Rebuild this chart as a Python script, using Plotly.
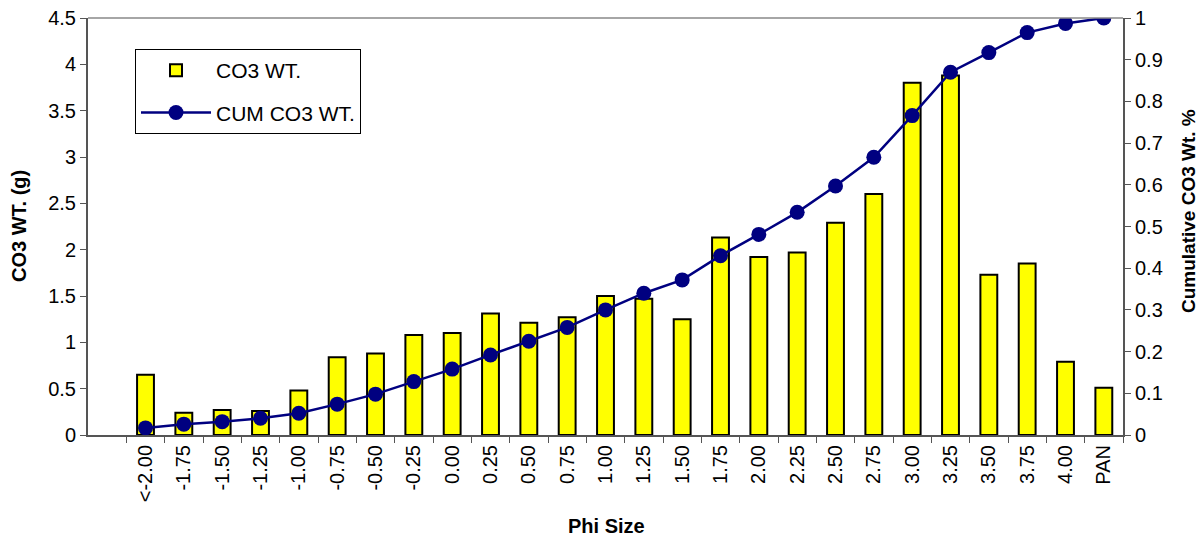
import plotly.graph_objects as go

categories = ["<-2.00", "-1.75", "-1.50", "-1.25", "-1.00", "-0.75", "-0.50", "-0.25",
              "0.00", "0.25", "0.50", "0.75", "1.00", "1.25", "1.50", "1.75", "2.00",
              "2.25", "2.50", "2.75", "3.00", "3.25", "3.50", "3.75", "4.00", "PAN"]
co3_wt = [0.65, 0.24, 0.27, 0.26, 0.48, 0.84, 0.88, 1.08, 1.10, 1.31, 1.21, 1.27, 1.50,
          1.47, 1.25, 2.13, 1.92, 1.97, 2.29, 2.60, 3.80, 3.88, 1.73, 1.85, 0.79, 0.51]
cum_co3 = [0.017, 0.026, 0.032, 0.040, 0.052, 0.074, 0.098, 0.128, 0.158, 0.192, 0.225,
           0.258, 0.300, 0.340, 0.372, 0.430, 0.481, 0.534, 0.597, 0.666, 0.766, 0.870,
           0.917, 0.965, 0.987, 1.0]
left_ticks = [0, 0.5, 1, 1.5, 2, 2.5, 3, 3.5, 4, 4.5]
right_ticks = [0, 0.1, 0.2, 0.3, 0.4, 0.5, 0.6, 0.7, 0.8, 0.9, 1]

FONT = "Arial, Liberation Sans, sans-serif"
W, H = 1200, 537
ML, MR, MT, MB = 88, 77, 18, 102
PW, PH = W - ML - MR, H - MT - MB

fig = go.Figure()
fig.add_trace(go.Bar(
    x=categories, y=co3_wt, name="CO3 WT.",
    marker=dict(color="#FFFF00", line=dict(color="black", width=2)),
    width=0.44, legendgroup="a",
))
fig.add_trace(go.Scatter(
    x=categories, y=cum_co3, name="CUM CO3 WT.", yaxis="y2",
    mode="lines+markers",
    line=dict(color="#000080", width=2.5),
    marker=dict(color="#000080", size=15),
    legendgroup="b",
))

def px_x(p):
    return (p - ML) / PW

def px_y(p):
    return (H - MB - p) / PH

fig.update_layout(
    width=W, height=H,
    margin=dict(l=ML, r=MR, t=MT, b=MB),
    paper_bgcolor="white", plot_bgcolor="white",
    font=dict(family=FONT, size=20, color="black"),
    showlegend=True,
    legend=dict(
        x=px_x(135), y=px_y(49), xanchor="left", yanchor="top",
        bgcolor="white", bordercolor="black", borderwidth=1,
        font=dict(size=21), tracegroupgap=12, traceorder="grouped",
        itemwidth=70,
    ),
    xaxis=dict(
        type="category", range=[-1.5, 25.5], automargin=False,
        tickangle=-90, tickson="boundaries",
        ticks="outside", ticklen=6, tickcolor="#555",
        showline=True, linecolor="#555", linewidth=2,
        showgrid=False, zeroline=False,
        tickfont=dict(size=20),
    ),
    yaxis=dict(
        range=[0, 4.5], tickvals=left_ticks, automargin=False,
        ticktext=[("%g" % v) for v in left_ticks],
        ticks="outside", ticklen=6, tickcolor="#555",
        showline=True, linecolor="#555", linewidth=2,
        showgrid=False, zeroline=False,
        tickfont=dict(size=20),
    ),
    yaxis2=dict(
        range=[0, 1], tickvals=right_ticks, automargin=False,
        ticktext=[("%g" % v) for v in right_ticks],
        overlaying="y", side="right",
        ticks="outside", ticklen=6, tickcolor="#555",
        showline=True, linecolor="#555", linewidth=2,
        showgrid=False, zeroline=False,
        tickfont=dict(size=20),
    ),
    shapes=[dict(type="line", xref="paper", yref="paper", x0=0, x1=1, y0=1, y1=1,
                 line=dict(color="#888", width=1.5))],
    annotations=[
        dict(text="<b>Phi Size</b>", xref="paper", yref="paper",
             x=px_x(606), y=px_y(526), xanchor="center", yanchor="middle",
             showarrow=False, font=dict(size=20)),
        dict(text="<b>CO3 WT. (g)</b>", xref="paper", yref="paper",
             x=px_x(19), y=px_y(226), xanchor="center", yanchor="middle",
             textangle=-90, showarrow=False, font=dict(size=20)),
        dict(text="<b>Cumulative CO3 Wt. %</b>", xref="paper", yref="paper",
             x=px_x(1188), y=px_y(211), xanchor="center", yanchor="middle",
             textangle=-90, showarrow=False, font=dict(size=19)),
    ],
)

fig.write_html("out.html", config={"displayModeBar": False},
               post_script="document.body.style.margin='0';document.body.style.overflow='hidden';")
